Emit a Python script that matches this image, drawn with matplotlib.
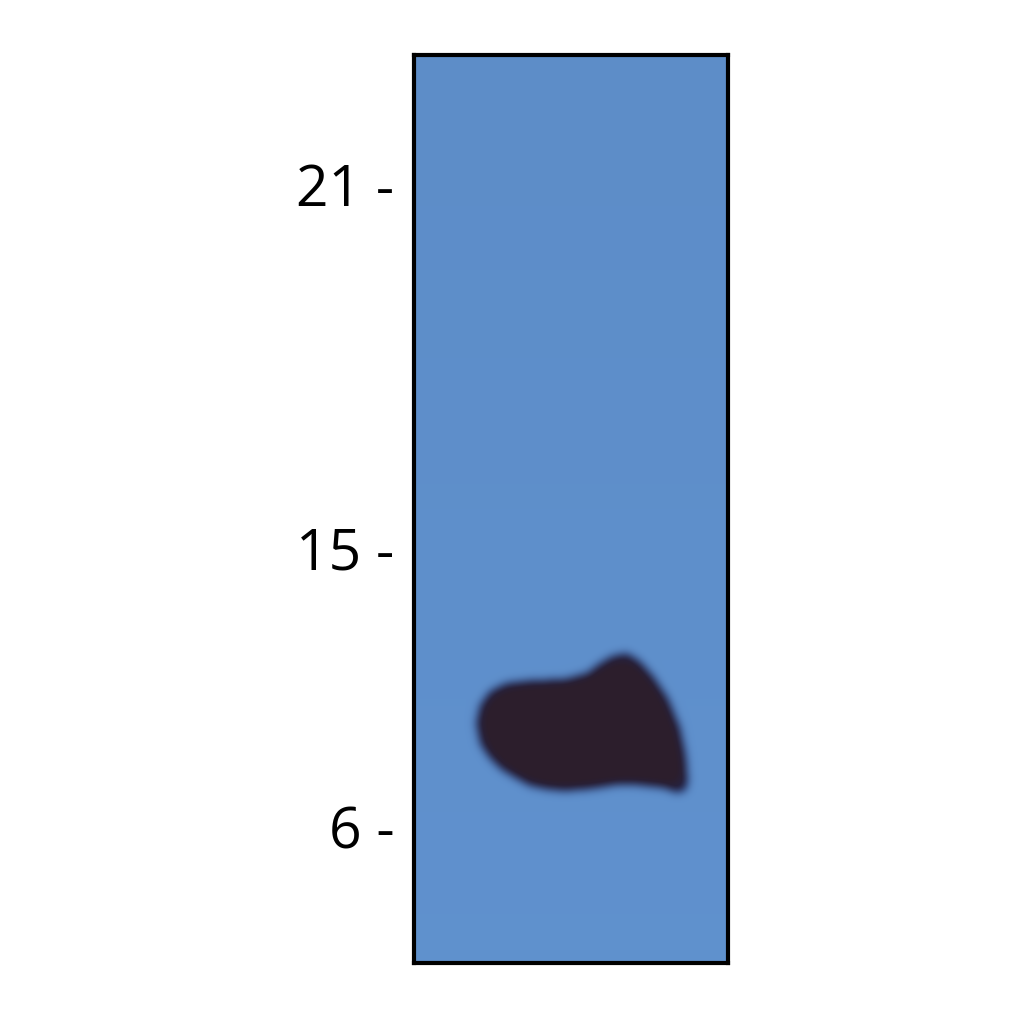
import matplotlib.pyplot as plt
import numpy as np
from matplotlib.path import Path

# marker ladder (kDa) and their row position on the membrane (px from top of the blot)
marker_labels = ["21", "15", "6"]
marker_rows = [130, 493, 772]

# outline of the band, membrane pixel coords (x from left, y from top)
band_x = [62, 66, 76, 92, 119, 150, 173, 186, 198, 213, 226, 240, 254, 266, 272, 274, 272, 263, 250, 239, 220, 203, 185, 169, 150, 136, 116, 103, 88, 76, 66]
band_y = [668, 650, 636, 628, 625, 624, 618, 608, 601, 598, 606, 622, 643, 672, 700, 725, 735, 738, 733, 732, 730, 730, 733, 735, 736, 735, 731, 724, 715, 704, 689]

blot_w, blot_h = 314, 908
bg_color = np.array([93, 141, 200]) / 255.0
band_color = np.array([44, 30, 44]) / 255.0
edge_color = np.array([30, 40, 90]) / 255.0

fig = plt.figure(figsize=(10.24, 10.24), dpi=100)
ax = fig.add_axes([414 / 1024, (1024 - 963) / 1024, blot_w / 1024, blot_h / 1024])

xx, yy = np.meshgrid(np.arange(blot_w) + 0.5, np.arange(blot_h) + 0.5)
path = Path(np.column_stack([band_x, band_y]))
mask = path.contains_points(np.column_stack([xx.ravel(), yy.ravel()])).reshape(blot_h, blot_w).astype(float)


def blur(a, sigma):
    r = int(3 * sigma)
    k = np.exp(-0.5 * (np.arange(-r, r + 1) / sigma) ** 2)
    k /= k.sum()
    a = np.apply_along_axis(lambda v: np.convolve(v, k, mode="same"), 1, a)
    return np.apply_along_axis(lambda v: np.convolve(v, k, mode="same"), 0, a)


soft = np.clip(blur(mask, 4.5) * 1.1, 0, 1)
inner = np.clip(blur(mask, 9.0) * 1.6 - 0.4, 0, 1)

shade = 1.0 + 0.03 * (yy / blot_h)
bg = bg_color[None, None, :] * shade[:, :, None]
core = edge_color[None, None, :] * (1 - inner[:, :, None]) + band_color[None, None, :] * inner[:, :, None]
img = bg * (1 - soft[:, :, None]) + core * soft[:, :, None]
img = np.clip(img, 0, 1)

ax.imshow(img, extent=[0, blot_w, blot_h, 0], aspect="auto", interpolation="bilinear")
ax.set_xlim(0, blot_w)
ax.set_ylim(blot_h, 0)

ax.set_xticks([])
ax.set_yticks(marker_rows)
ax.set_yticklabels([lab + " -" for lab in marker_labels], fontsize=41, family=["Open Sans", "DejaVu Sans"])
ax.tick_params(axis="y", length=0, pad=14)

for s in ax.spines.values():
    s.set_linewidth(3)
    s.set_color("black")

fig.savefig("out.png", dpi=100, facecolor="white")
